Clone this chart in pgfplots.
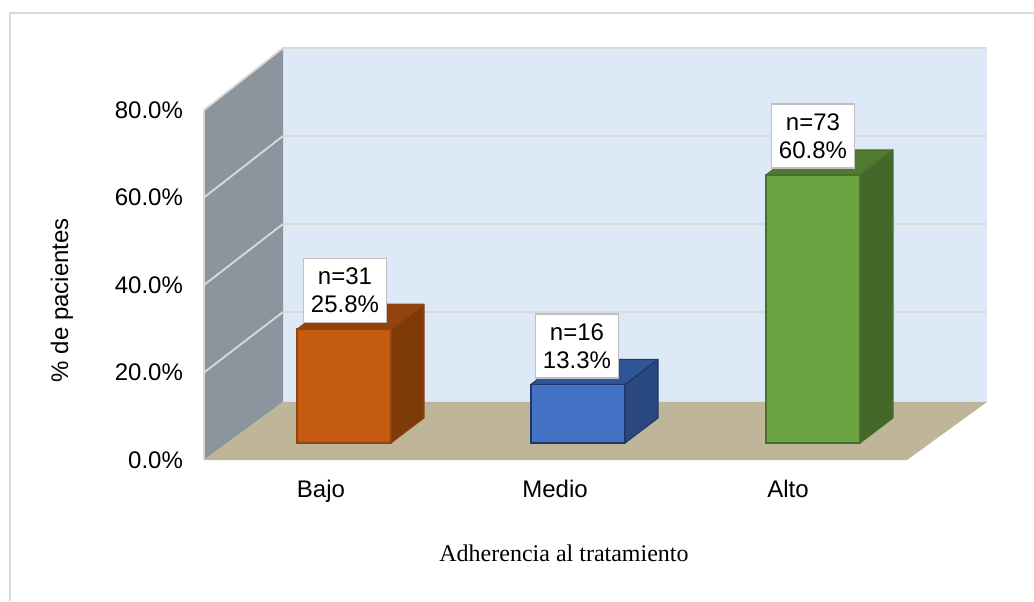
\documentclass[border=0pt]{standalone}
\usepackage{pgfplots}
\pgfplotsset{compat=1.18}
\usepackage{fontspec}
\setmainfont{Liberation Sans}
\newfontfamily\serifcap{Liberation Serif}
\definecolor{wallback}{HTML}{DEE9F8}
\definecolor{wallleft}{HTML}{8C959D}
\definecolor{floorc}{HTML}{BFB699}
\definecolor{gridc}{HTML}{D9D9D9}
\definecolor{labe}{HTML}{BFBFBF}
\definecolor{orF}{HTML}{C55A11}
\definecolor{orS}{HTML}{7F3A0A}
\definecolor{orT}{HTML}{93440E}
\definecolor{orE}{HTML}{8F4410}
\definecolor{blF}{HTML}{4472C4}
\definecolor{blS}{HTML}{2A4880}
\definecolor{blT}{HTML}{2F5597}
\definecolor{blE}{HTML}{203864}
\definecolor{grF}{HTML}{6BA342}
\definecolor{grS}{HTML}{43682A}
\definecolor{grT}{HTML}{4F7A30}
\definecolor{grE}{HTML}{47702C}
\newcommand{\chartfont}{\fontsize{18}{21}\selectfont}
\begin{document}
\begin{tikzpicture}[x=1pt,y=1pt]
\path[use as bounding box] (0,0) rectangle (775.5,450.75);
\draw[gridc,line width=1.1pt] (7.5,0) -- (7.5,441) -- (775.5,441);
% walls, floor, axis labels
\begin{axis}[
  at={(153pt,105.75pt)}, anchor=origin,
  scale only axis, width=587.25pt, height=262.5pt,
  xmin=204, xmax=987, ymin=0, ymax=80,
  clip=false,
  axis x line=bottom, axis y line=left,
  axis line style={-,draw=none},
  major tick style={draw=none},
  xtick={321,555,788}, xticklabels={Bajo,Medio,Alto},
  ytick={0,20,40,60,80},
  yticklabels={0.0\%,20.0\%,40.0\%,60.0\%,80.0\%},
  tick label style={font=\chartfont},
  x tick label style={anchor=north,inner sep=0pt,yshift=-12.5pt},
  y tick label style={anchor=east,inner sep=0pt,xshift=-13.5pt},
  xlabel={\serifcap Adherencia al tratamiento},
  ylabel={\% de pacientes},
  every axis x label/.style={at={(axis cs:564,-21.26)},anchor=center,font=\fontsize{18}{21}\selectfont},
  every axis y label/.style={at={(axis cs:62,36.57)},anchor=center,rotate=90,font=\chartfont},
]
\addplot[fill=wallback,draw=none] coordinates {(283,13.26)(987,13.26)(987,94.17)(283,94.17)} -- cycle;
\addplot[gridc,line width=1.4pt] coordinates {(283,33.83)(987,33.83)};
\addplot[gridc,line width=1.4pt] coordinates {(283,53.94)(987,53.94)};
\addplot[gridc,line width=1.4pt] coordinates {(283,74.06)(987,74.06)};
\addplot[gridc,line width=1.4pt] coordinates {(283,94.17)(987,94.17)};
\addplot[fill=wallleft,draw=none] coordinates {(204,0)(283,13.26)(283,94.17)(204,80)} -- cycle;
\addplot[gridc,line width=1.4pt] coordinates {(204,20)(283,33.83)};
\addplot[gridc,line width=1.4pt] coordinates {(204,40)(283,53.94)};
\addplot[gridc,line width=1.4pt] coordinates {(204,60)(283,74.06)};
\addplot[gridc,line width=1.4pt] coordinates {(204,80)(283,94.17)};
\addplot[gridc,line width=0.8pt] coordinates {(204,0)(204,80)};
\addplot[fill=floorc,draw=none] coordinates {(204,0)(283,13.26)(987,13.26)(907,0)} -- cycle;
\end{axis}
% bars
\begin{axis}[
  at={(153pt,118.5pt)}, anchor=origin,
  scale only axis, width=587.25pt, height=264.6pt,
  xmin=204, xmax=987, ymin=0, ymax=80,
  clip=false, hide axis,
  bar width=70.5pt,
]
% Bajo
\addplot[fill=orS,draw=orE,line width=0.8pt,line join=round] coordinates {(391,0)(424,5.67)(424,31.47)(391,25.8)} -- cycle;
\addplot[fill=orT,draw=orE,line width=0.8pt,line join=round] coordinates {(297,25.8)(391,25.8)(424,31.47)(330,31.47)} -- cycle;
\addplot[ybar,bar shift=0pt,fill=orF,draw=orE,line width=1.1pt] coordinates {(344,25.8)};
% Medio
\addplot[fill=blS,draw=blE,line width=0.8pt,line join=round] coordinates {(625,0)(658,5.67)(658,18.97)(625,13.3)} -- cycle;
\addplot[fill=blT,draw=blE,line width=0.8pt,line join=round] coordinates {(531,13.3)(625,13.3)(658,18.97)(564,18.97)} -- cycle;
\addplot[ybar,bar shift=0pt,fill=blF,draw=blE,line width=1.1pt] coordinates {(578,13.3)};
% Alto
\addplot[fill=grS,draw=grE,line width=0.8pt,line join=round] coordinates {(860,0)(893,5.67)(893,66.47)(860,60.8)} -- cycle;
\addplot[fill=grT,draw=grE,line width=0.8pt,line join=round] coordinates {(766,60.8)(860,60.8)(893,66.47)(799,66.47)} -- cycle;
\addplot[ybar,bar shift=0pt,fill=grF,draw=grE,line width=1.1pt] coordinates {(813,60.8)};
\tikzset{lab/.style={anchor=south,draw=labe,fill=white,line width=1.3pt,
  minimum width=62.25pt,minimum height=48pt,inner sep=0pt,align=center,yshift=4.3pt,
  font=\chartfont}}
\node[lab] at (axis cs:345,25.8) {\raisebox{-1.8pt}{n=31}\\\raisebox{-1.8pt}{25.8\%}};
\node[lab] at (axis cs:577,13.3) {\raisebox{-1.8pt}{n=16}\\\raisebox{-1.8pt}{13.3\%}};
\node[lab] at (axis cs:813,60.8) {\raisebox{-1.8pt}{n=73}\\\raisebox{-1.8pt}{60.8\%}};
\end{axis}
\end{tikzpicture}
\end{document}
